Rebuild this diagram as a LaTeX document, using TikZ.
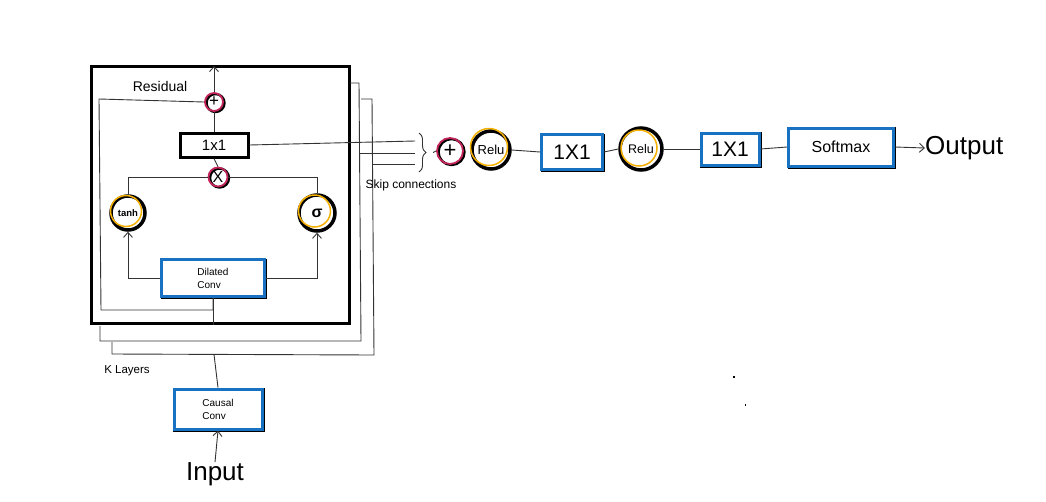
\documentclass[tikz,border=0pt]{standalone}
\usepackage{fontspec}
\setmainfont{Liberation Sans}
\usetikzlibrary{decorations.pathreplacing,arrows.meta}
\definecolor{xblue}{HTML}{1971C2}
\definecolor{xmag}{HTML}{C2255C}
\definecolor{xyel}{HTML}{F5B000}
\definecolor{xline}{HTML}{333333}
\newcommand{\fs}[1]{\fontsize{#1}{#1}\selectfont}
\begin{document}
\begin{tikzpicture}[x=1pt,y=-1pt,
  conn/.style={draw=xline, line width=0.9pt},
  arr/.style={conn, -{Straight Barb[length=5pt,width=9pt]}},
  bluebox/.style={rectangle, draw=xblue, line width=3pt, fill=white, inner sep=0pt,
    preaction={draw=black, line width=3.5pt, transform canvas={xshift=1.2pt,yshift=-1.2pt}}},
  blackbox/.style={rectangle, draw=black, line width=3pt, fill=white, inner sep=0pt},
  magcirc/.style={circle, draw=xmag, line width=1.8pt, inner sep=0pt,
    preaction={draw=black, line width=2.4pt, transform canvas={xshift=1.5pt,yshift=-1pt}}},
  ylwcirc/.style={circle, draw=black, line width=3.5pt, inner sep=0pt, fill=white},
  ylwring/.style={draw=xyel, line width=1.5pt},
  lbl/.style={inner sep=0pt, text=black}
]
\useasboundingbox (0,0) rectangle (1046,501);

% ---------- main block ----------
\node[draw=black, line width=3pt, minimum width=258pt, minimum height=257pt, inner sep=0pt] (main) at (220,194.5) {};
% stacked layer frames
\draw[conn] (350,83) -- (359,83) -- (361,341) -- (100,341) -- (100,326);
\draw[conn] (361,99) -- (372,99) -- (374,355) -- (112,354) -- (112,342);

\node[lbl, font=\fs{14}] (res) at (160,86) {Residual};
\node[lbl, font=\fs{11.5}] (kl) at (127,371) {K Layers};

\node[magcirc, minimum size=18pt, font=\fs{17}] (plusA) at (214,102) {+};
\node[blackbox, minimum width=68pt, minimum height=24pt, font=\fs{15}] (oneA) at (214,145) {1x1};
\node[magcirc, minimum size=19pt, font=\fs{16}] (mulA) at (218,177) {X};

\node[ylwcirc, minimum size=34pt, font=\bfseries\fs{9.5}] (tanh) at (128,213) {tanh};
\draw[ylwring] ([xshift=-2pt,yshift=2pt]tanh.center) circle (15.5);
\node[ylwcirc, minimum size=36pt, font=\bfseries\fs{16}] (sig) at (317,213) {σ};
\draw[ylwring] ([xshift=-2.5pt,yshift=2pt]sig.center) circle (16);

\node[bluebox, minimum width=103pt, minimum height=37pt, font=\fs{10}, align=left] (dil) at (213,278) {Dilated\\[3pt]Conv};

\coordinate (topout) at (214,66);
\draw[arr] (plusA.north) -- (topout);
\draw[conn] (oneA.north) -- (plusA.south);
\draw[conn] (mulA.north) -- (oneA.south);
\draw[conn] (mulA.west) -| (tanh.north);
\draw[conn] (mulA.east) -| (sig.north);
\draw[arr] (dil.west) -| (tanh.south);
\draw[arr] (dil.east) -| (sig.south);
\coordinate (rtop) at (99,99);
\coordinate (rbot) at (101,310);
\draw[conn] (plusA.west) -- (rtop) -- (rbot) -- (rbot -| dil.south) -- (dil.south);
\draw[conn] (dil.south) -- (dil.south |- main.south);

% ---------- causal conv and input ----------
\node[bluebox, minimum width=88pt, minimum height=40pt, font=\fs{10}, align=left] (causal) at (218,409) {Causal\\[3pt]Conv};
\node[lbl, font=\fs{26}] (inp) at (215,474) {Input};
\draw[arr] (inp.north) -- (causal.south);
\coordinate (k3) at (214,354.5);
\draw[conn] (causal.north) -- (k3);

% ---------- skip connections ----------
\coordinate (s1) at (415,141);
\coordinate (s2) at (415,153);
\coordinate (s3) at (415,164);
\coordinate (f2) at (360,153);
\coordinate (f3) at (373,164);
\draw[conn] (oneA.east) -- (s1);
\draw[conn] (f2) -- (s2);
\draw[conn] (f3) -- (s3);
\draw[conn, decorate, decoration={brace, amplitude=7pt}] (419,133) -- (419,172);
\coordinate (bt) at (433,152.5);
\node[lbl, font=\fs{12}] (skip) at (411,185) {Skip connections};

% ---------- output chain ----------
\node[magcirc, minimum size=26pt, font=\fs{22}] (plus2) at (450,151) {+};
\node[ylwcirc, minimum size=38pt, font=\fs{13}] (relu1) at (491,150) {Relu};
\draw[ylwring] ([xshift=-2pt,yshift=3pt]relu1.center) circle (18.5);
\node[bluebox, minimum width=61pt, minimum height=35pt, font=\fs{21}] (c2) at (572,152) {1X1};
\node[ylwcirc, minimum size=42pt, font=\fs{12.5}] (relu2) at (641,149) {Relu};
\draw[ylwring] ([xshift=-2pt,yshift=1pt]relu2.center) circle (18);
\node[bluebox, minimum width=58pt, minimum height=32pt, font=\fs{21}] (c3) at (730,149) {1X1};
\node[bluebox, minimum width=105pt, minimum height=38pt, font=\fs{16}] (soft) at (841,147) {Softmax};
\node[lbl, font=\fs{26}, anchor=west] (out) at (925,148) {Output};

\draw[conn] (bt) -- (plus2.west);
\draw[conn] (relu1.east) -- (c2.west);
\draw[conn] (c2.east) -- (relu2.west);
\draw[conn] (relu2.east) -- (c3.west);
\draw[conn] (c3.east) -- (soft.west);
\draw[arr] (soft.east) -- (out.west);

% stray specks
\fill (733,376) rectangle (734.5,377.5);
\fill (745,404) rectangle (746,405.5);
\end{tikzpicture}
\end{document}
